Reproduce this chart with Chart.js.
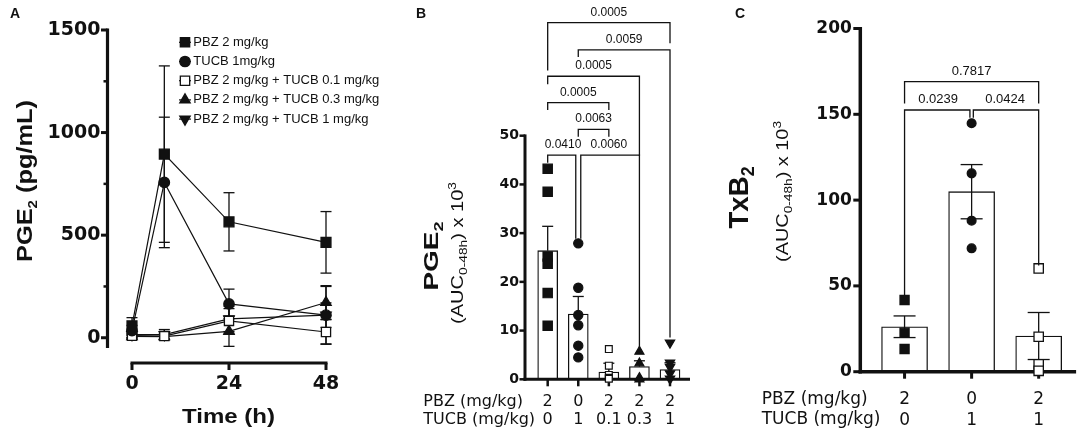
<!DOCTYPE html>
<html><head><meta charset="utf-8">
<script src="https://cdn.jsdelivr.net/npm/chart.js"></script>
<style>
html,body{margin:0;padding:0;background:#fff;}
#wrap{position:relative;width:1084px;height:434px;overflow:hidden;background:#fff;}
.pane{position:absolute;top:0;height:434px;}
</style></head><body>
<div id="wrap">
 <div class="pane" style="left:0;width:385px"><canvas id="cA"></canvas></div>
 <div class="pane" style="left:385px;width:315px"><canvas id="cB"></canvas></div>
 <div class="pane" style="left:700px;width:384px"><canvas id="cC"></canvas></div>
</div>
<script>
// ---------------- DATA ----------------
// Panel A: PGE2 time course (mean ± SEM)
const timesA = [0, 8, 24, 48];
const timeTicksA = [0, 24, 48];
const yTicksA = [0, 500, 1000, 1500];
const yMinorA = [250, 750, 1250];
const seriesNamesA = ['PBZ 2 mg/kg', 'TUCB 1mg/kg', 'PBZ 2 mg/kg + TUCB 0.1 mg/kg', 'PBZ 2 mg/kg + TUCB 0.3 mg/kg', 'PBZ 2 mg/kg + TUCB 1 mg/kg'];
const pbzMean   = [58, 895, 565, 465];
const pbzSem    = [40, 430, 142, 150];
const tucbMean  = [35, 757, 165, 110];
const tucbSem   = [25, 318, 72, 140];
const tucb01Mean = [10, 8, 82, 28];
const tucb01Sem  = [10, 15, 60, 60];
const tucb03Mean = [6, 5, 31, 172];
const tucb03Sem  = [8, 12, 73, 82];
const tucb1Mean  = [15, 15, 92, 110];
const tucb1Sem   = [15, 25, 62, 60];

// Panel B: PGE2 AUC(0-48h) x 10^3
const pbzDoseB  = ['2', '0', '2', '2', '2'];
const tucbDoseB = ['0', '1', '0.1', '0.3', '1'];
const yTicksB = [0, 10, 20, 30, 40, 50];
const pgeMeanB = [26.4, 13.4, 1.5, 2.6, 2.0];
const pgeSemB  = [5.0, 3.6, 1.8, 1.2, 1.4];
const pgePts0 = [43.2, 38.5, 25.2, 23.7, 17.7, 11.0];
const pgePts1 = [27.9, 18.8, 13.2, 11.1, 6.9, 4.5];
const pgePts2 = [6.2, 2.8, 0.9, 0.3, 0.1];
const pgePts3 = [5.7, 3.3, 0.3, 0.0];
const pgePts4 = [7.5, 3.4, 2.5, 1.2, 0.1];
// [from, to, p-value, bracket level, left leg end, right leg end] (data units)
const pBracketsB = [
  [0, 4, '0.0005', 73.2, 63.5, 69.1],
  [1, 4, '0.0059', 67.6, 66.3, 8.7],
  [0, 3, '0.0005', 62.2, 60.7, 46.0],
  [0, 2, '0.0005', 56.8, 55.4, 55.4],
  [1, 2, '0.0063', 51.3, 49.9, 49.9],
  [0, 1, '0.0410', 46.0, 44.6, 29.0],
  [1, 3, '0.0060', 46.0, 29.0, 6.7]
];

// Panel C: TxB2 AUC(0-48h) x 10^3
const pbzDoseC  = ['2', '0', '2'];
const tucbDoseC = ['0', '1', '1'];
const yTicksC = [0, 50, 100, 150, 200];
const txbMeanC = [26.2, 104.9, 20.8];
const txbSemC  = [6.3, 15.8, 13.7];
const txbPts0 = [41.8, 22.7, 13.2];
const txbPts1 = [144.8, 115.6, 88.0, 71.9];
const txbPts2 = [60.2, 20.4, 4.3, 0.5];
const pBracketsC = [
  [0, 2, '0.7817', 169.0, 156.7, 156.7],
  [0, 1, '0.0239', 152.5, 44.6, 148.4],
  [1, 2, '0.0424', 152.5, 148.4, 62.2]
];

// ---------------- STYLE / HELPERS ----------------
const INK = '#111';
const FS = "'Liberation Sans', Arial, Helvetica, sans-serif";
const FD = "'DejaVu Sans', Verdana, sans-serif";
Chart.defaults.color = INK;

function seg(ctx, x1, y1, x2, y2, w) {
  ctx.lineWidth = w; ctx.beginPath(); ctx.moveTo(x1, y1); ctx.lineTo(x2, y2); ctx.stroke();
}
function richText(ctx, parts, x, y, rot, len) {
  ctx.save();
  ctx.translate(x, y); ctx.rotate(rot);
  const ws = []; let tot = 0;
  parts.forEach(p => { ctx.font = `${p.w || 'normal'} ${p.s}px ${p.f || FS}`; const w = ctx.measureText(p.t).width; ws.push(w); tot += w; });
  const k = len ? len / tot : 1;
  ctx.scale(k, 1);
  ctx.textAlign = 'left'; ctx.textBaseline = 'alphabetic'; ctx.fillStyle = INK;
  let cx = -tot / 2;
  parts.forEach((p, i) => { ctx.font = `${p.w || 'normal'} ${p.s}px ${p.f || FS}`; ctx.fillText(p.t, cx, p.dy || 0); cx += ws[i]; });
  ctx.restore();
}
function marker(ctx, style, x, y, r, fill, rot) {
  ctx.save(); ctx.fillStyle = fill; ctx.strokeStyle = INK; ctx.lineWidth = 1.3;
  ctx.beginPath();
  if (style === 'rect') { const s = r * Math.SQRT1_2; ctx.rect(x - s, y - s, 2 * s, 2 * s); }
  else if (style === 'circle') { ctx.arc(x, y, r, 0, Math.PI * 2); }
  else { const d = rot ? -1 : 1; ctx.moveTo(x, y - d * r); ctx.lineTo(x + 0.866 * r, y + d * 0.5 * r); ctx.lineTo(x - 0.866 * r, y + d * 0.5 * r); ctx.closePath(); }
  ctx.fill(); ctx.stroke(); ctx.restore();
}
function drawBrackets(ctx, xs, ys, list, fontSize, gap) {
  ctx.save(); ctx.strokeStyle = INK; ctx.fillStyle = INK;
  ctx.font = `${fontSize}px ${FS}`; ctx.textAlign = 'center'; ctx.textBaseline = 'middle';
  list.forEach(b => {
    const [i, j, p, lev, le, re] = b;
    const li = list.some(o => o !== b && o[3] === lev && o[1] === i) ? gap : 0;
    const ri = list.some(o => o !== b && o[3] === lev && o[0] === j) ? -gap : 0;
    const x1 = xs.getPixelForValue(i) + li, x2 = xs.getPixelForValue(j) + ri;
    const yl = ys.getPixelForValue(lev);
    ctx.lineCap = 'square';
    ctx.beginPath(); ctx.lineWidth = 1.3;
    ctx.moveTo(x1, ys.getPixelForValue(le)); ctx.lineTo(x1, yl); ctx.lineTo(x2, yl); ctx.lineTo(x2, ys.getPixelForValue(re));
    ctx.stroke();
    ctx.fillText(p, (xs.getPixelForValue(i) + xs.getPixelForValue(j)) / 2, yl - 10.3);
  });
  ctx.restore();
}

// ---------------- PANEL A ----------------
const seriesA = [
  { name: seriesNamesA[0], mean: pbzMean, sem: pbzSem },
  { name: seriesNamesA[1], mean: tucbMean, sem: tucbSem },
  { name: seriesNamesA[2], mean: tucb01Mean, sem: tucb01Sem },
  { name: seriesNamesA[3], mean: tucb03Mean, sem: tucb03Sem },
  { name: seriesNamesA[4], mean: tucb1Mean, sem: tucb1Sem }
];
const stylesA = [
  { ps: 'rect', r: 7, fill: INK, rot: 0 },
  { ps: 'circle', r: 5.2, fill: INK, rot: 0 },
  { ps: 'rect', r: 6.5, fill: '#fff', rot: 0 },
  { ps: 'triangle', r: 6, fill: INK, rot: 0 },
  { ps: 'triangle', r: 6, fill: INK, rot: 180 }
];
const plugA = {
  id: 'plugA',
  beforeDatasetsDraw(chart) {
    const { ctx, scales: { x, y } } = chart;
    ctx.save(); ctx.strokeStyle = INK;
    seriesA.forEach(s => s.mean.forEach((m, i) => {
      const px = x.getPixelForValue(timesA[i]);
      const yt = y.getPixelForValue(m + s.sem[i]), yb = y.getPixelForValue(m - s.sem[i]);
      seg(ctx, px, yt, px, yb, 1.3);
      seg(ctx, px - 5.5, yt, px + 5.5, yt, 1.3);
      seg(ctx, px - 5.5, yb, px + 5.5, yb, 1.3);
    }));
    ctx.restore();
  },
  afterDraw(chart) {
    const { ctx, chartArea: ca, scales: { x, y } } = chart;
    ctx.save(); ctx.strokeStyle = INK; ctx.lineCap = 'butt';
    const L = ca.left, B = ca.bottom;
    seg(ctx, L, y.getPixelForValue(1500) - 1.5, L, B, 3.2);
    yTicksA.forEach(v => { const p = y.getPixelForValue(v); seg(ctx, L - 6.5, p, L, p, 3); });
    yMinorA.forEach(v => { const p = y.getPixelForValue(v); seg(ctx, L - 4, p, L, p, 2.5); });
    const xy = B + 15;
    seg(ctx, x.getPixelForValue(0) - 1.5, xy, x.getPixelForValue(48) + 1.5, xy, 3.2);
    timeTicksA.forEach(t => { const p = x.getPixelForValue(t); seg(ctx, p, xy, p, xy + 7, 3); });
    // legend
    ctx.font = `13px ${FS}`; ctx.textAlign = 'left'; ctx.textBaseline = 'middle'; ctx.fillStyle = INK;
    seriesA.forEach((s, k) => {
      const ly = 42.3 + k * 19.2, lx = 185;
      ctx.strokeStyle = INK; seg(ctx, lx - 6, ly, lx + 6, ly, 1.2);
      marker(ctx, stylesA[k].ps, lx, ly, stylesA[k].ps === 'rect' ? 6.6 : stylesA[k].r, stylesA[k].fill, stylesA[k].rot);
      ctx.fillStyle = INK; ctx.fillText(s.name, 193.3, ly);
    });
    // titles
    ctx.font = `bold 14px ${FS}`; ctx.textBaseline = 'alphabetic'; ctx.fillText('A', 10, 18.3);
    richText(ctx, [{ t: 'PGE', s: 22, w: 'bold' }, { t: '2', s: 13, w: 'bold', dy: 5.5 }, { t: ' (pg/mL)', s: 22, w: 'bold' }], 31.7, 181, -Math.PI / 2, 162);
    richText(ctx, [{ t: 'Time (h)', s: 20, w: 'bold' }], 228.5, 423, 0, 93);
    ctx.restore();
  }
};
new Chart(document.getElementById('cA'), {
  type: 'line',
  data: {
    datasets: seriesA.map((s, k) => ({
      label: s.name,
      data: timesA.map((t, i) => ({ x: t, y: s.mean[i] })),
      borderColor: INK, borderWidth: 1.2, tension: 0, clip: false,
      pointStyle: stylesA[k].ps, pointRadius: stylesA[k].r, pointRotation: stylesA[k].rot,
      pointBackgroundColor: stylesA[k].fill, pointBorderColor: INK, pointBorderWidth: 1.3
    }))
  },
  options: {
    responsive: true, maintainAspectRatio: false, animation: false, events: [],
    layout: { padding: { top: 30, right: 55, left: 0, bottom: 0 } },
    plugins: { legend: { display: false }, tooltip: { enabled: false } },
    scales: {
      x: {
        type: 'linear', min: -6.06, max: 48.99, offset: false,
        grid: { display: false, drawTicks: false }, border: { display: false },
        afterBuildTicks: s => { s.ticks = timeTicksA.map(v => ({ value: v })); },
        afterFit: s => { s.height = 86; },
        ticks: { padding: 24.3, color: INK, autoSkip: false, maxRotation: 0, font: { family: FD, size: 19, weight: 'bold' }, callback: v => String(v) }
      },
      y: {
        type: 'linear', min: -50, max: 1500,
        grid: { display: false, drawTicks: false }, border: { display: false },
        afterBuildTicks: s => { s.ticks = yTicksA.map(v => ({ value: v })); },
        afterFit: s => { s.width = 107.5; },
        ticks: { padding: 7, color: INK, font: { family: FD, size: 19, weight: 'bold' }, callback: v => String(v) }
      }
    }
  },
  plugins: [plugA]
});

// ---------------- PANEL B ----------------
const ptsB = [pgePts0, pgePts1, pgePts2, pgePts3, pgePts4];
const stylesB = [
  { ps: 'rect', r: 6.6, fill: INK, rot: 0 },
  { ps: 'circle', r: 4.6, fill: INK, rot: 0 },
  { ps: 'rect', r: 4.8, fill: '#fff', rot: 0 },
  { ps: 'triangle', r: 5.2, fill: INK, rot: 0 },
  { ps: 'triangle', r: 5.4, fill: INK, rot: 180 }
];
const plugB = {
  id: 'plugB',
  afterDatasetDraw(chart, args) {
    if (args.meta.type !== 'bar') return;
    const { ctx, chartArea: ca, scales: { x, y } } = chart;
    ctx.save(); ctx.strokeStyle = INK; ctx.lineCap = 'butt';
    pgeMeanB.forEach((m, i) => {
      const px = x.getPixelForValue(i), yt = y.getPixelForValue(m + pgeSemB[i]), yb = y.getPixelForValue(m);
      seg(ctx, px, yt, px, yb, 1.3); seg(ctx, px - 5.5, yt, px + 5.5, yt, 1.3);
    });
    seg(ctx, ca.left, y.getPixelForValue(50) - 1.3, ca.left, ca.bottom + 1.5, 3);
    yTicksB.forEach(v => { const p = y.getPixelForValue(v); seg(ctx, ca.left - 5.5, p, ca.left, p, 2.5); });
    seg(ctx, ca.left - 1.5, ca.bottom, ca.right, ca.bottom, 3);
    pgeMeanB.forEach((m, i) => { const p = x.getPixelForValue(i); seg(ctx, p, ca.bottom, p, ca.bottom + 7, 2.5); });
    ctx.restore();
  },
  afterDraw(chart) {
    const { ctx, scales: { x, y } } = chart;
    drawBrackets(ctx, x, y, pBracketsB, 12, 2.5);
    ctx.save(); ctx.fillStyle = INK;
    ctx.font = `bold 14px ${FS}`; ctx.textAlign = 'left'; ctx.textBaseline = 'alphabetic'; ctx.fillText('B', 31, 18.3);
    ctx.font = `16px ${FD}`; ctx.textBaseline = 'middle';
    ctx.fillText('PBZ (mg/kg)', 38.3, 401.7);
    ctx.fillText('TUCB (mg/kg)', 38.3, 420.1);
    richText(ctx, [{ t: 'PGE', s: 20, w: 'bold' }, { t: '2', s: 13, w: 'bold', dy: 5 }], 53.3, 256, -Math.PI / 2, 69);
    richText(ctx, [{ t: '(AUC', s: 16 }, { t: '0-48h', s: 11, dy: 4 }, { t: ') x 10', s: 16 }, { t: '3', s: 11, dy: -7 }], 78, 253, -Math.PI / 2, 142);
    ctx.restore();
  }
};
new Chart(document.getElementById('cB'), {
  type: 'bar',
  data: {
    datasets: [
      { type: 'bar', label: 'PGE2 AUC', data: pgeMeanB.map((m, i) => ({ x: i, y: m })), backgroundColor: '#fff', borderColor: INK, borderWidth: 1.3, barThickness: 20, order: 1 },
      ...ptsB.map((pts, i) => ({
        type: 'scatter', label: 'group ' + i, data: pts.map(v => ({ x: i, y: v })), order: 0, clip: false,
        pointStyle: stylesB[i].ps, pointRadius: stylesB[i].r, pointRotation: stylesB[i].rot,
        pointBackgroundColor: stylesB[i].fill, pointBorderColor: INK, pointBorderWidth: 1.2
      }))
    ]
  },
  options: {
    responsive: true, maintainAspectRatio: false, animation: false, events: [],
    layout: { padding: { top: 135.7, right: 10, left: 0, bottom: 0 } },
    plugins: { legend: { display: false }, tooltip: { enabled: false } },
    scales: {
      x: {
        type: 'linear', min: -0.742, max: 4.654, offset: false,
        grid: { display: false, drawTicks: false }, border: { display: false },
        afterBuildTicks: s => { s.ticks = pbzDoseB.map((d, i) => ({ value: i })); },
        afterFit: s => { s.height = 54.7; },
        ticks: { padding: 13.3, color: INK, autoSkip: false, maxRotation: 0, font: { family: FD, size: 16, lineHeight: 1.15 },
          callback: v => [pbzDoseB[v], tucbDoseB[v]] }
      },
      y: {
        type: 'linear', min: 0, max: 50,
        grid: { display: false, drawTicks: false }, border: { display: false },
        afterBuildTicks: s => { s.ticks = yTicksB.map(v => ({ value: v })); },
        afterFit: s => { s.width = 140; },
        ticks: { padding: 6, color: INK, font: { family: FD, size: 14, weight: 'bold' }, callback: v => String(v) }
      }
    }
  },
  plugins: [plugB]
});

// ---------------- PANEL C ----------------
const ptsC = [txbPts0, txbPts1, txbPts2];
const stylesC = [
  { ps: 'rect', r: 6.4, fill: INK },
  { ps: 'circle', r: 4.4, fill: INK },
  { ps: 'rect', r: 6.6, fill: '#fff' }
];
const plugC = {
  id: 'plugC',
  afterDatasetDraw(chart, args) {
    if (args.meta.type !== 'bar') return;
    const { ctx, chartArea: ca, scales: { x, y } } = chart;
    ctx.save(); ctx.strokeStyle = INK; ctx.lineCap = 'butt';
    txbMeanC.forEach((m, i) => {
      const px = x.getPixelForValue(i), yt = y.getPixelForValue(m + txbSemC[i]), yb = y.getPixelForValue(m - txbSemC[i]);
      seg(ctx, px, yt, px, yb, 1.3); seg(ctx, px - 11, yt, px + 11, yt, 1.3); seg(ctx, px - 11, yb, px + 11, yb, 1.3);
    });
    seg(ctx, ca.left, y.getPixelForValue(200) - 1.5, ca.left, ca.bottom + 1.8, 3.5);
    yTicksC.forEach(v => { const p = y.getPixelForValue(v); seg(ctx, ca.left - 7, p, ca.left, p, 3); });
    seg(ctx, ca.left - 1.8, ca.bottom, ca.right, ca.bottom, 3.5);
    txbMeanC.forEach((m, i) => { const p = x.getPixelForValue(i); seg(ctx, p, ca.bottom, p, ca.bottom + 7, 3); });
    ctx.restore();
  },
  afterDraw(chart) {
    const { ctx, scales: { x, y } } = chart;
    drawBrackets(ctx, x, y, pBracketsC, 13, 1.7);
    ctx.save(); ctx.fillStyle = INK;
    ctx.font = `bold 14px ${FS}`; ctx.textAlign = 'left'; ctx.textBaseline = 'alphabetic'; ctx.fillText('C', 35, 18.3);
    ctx.font = `17px ${FD}`; ctx.textBaseline = 'middle';
    ctx.fillText('PBZ (mg/kg)', 61.7, 400);
    ctx.fillText('TUCB (mg/kg)', 61.7, 420);
    richText(ctx, [{ t: 'TxB', s: 28, w: 'bold' }, { t: '2', s: 18, w: 'bold', dy: 6 }], 48.3, 197.5, -Math.PI / 2, 62);
    richText(ctx, [{ t: '(AUC', s: 16 }, { t: '0-48h', s: 11, dy: 4 }, { t: ') x 10', s: 16 }, { t: '3', s: 11, dy: -7 }], 88, 191.5, -Math.PI / 2, 141);
    ctx.restore();
  }
};
new Chart(document.getElementById('cC'), {
  type: 'bar',
  data: {
    datasets: [
      { type: 'bar', label: 'TxB2 AUC', data: txbMeanC.map((m, i) => ({ x: i, y: m })), backgroundColor: '#fff', borderColor: INK, borderWidth: 1.3, barThickness: 46, order: 1 },
      ...ptsC.map((pts, i) => ({
        type: 'scatter', label: 'group ' + i, data: pts.map(v => ({ x: i, y: v })), order: 0, clip: false,
        pointStyle: stylesC[i].ps, pointRadius: stylesC[i].r,
        pointBackgroundColor: stylesC[i].fill, pointBorderColor: INK, pointBorderWidth: 1.3
      }))
    ]
  },
  options: {
    responsive: true, maintainAspectRatio: false, animation: false, events: [],
    layout: { padding: { top: 28.5, right: 2.3, left: 0, bottom: 0 } },
    plugins: { legend: { display: false }, tooltip: { enabled: false } },
    scales: {
      x: {
        type: 'linear', min: -0.66, max: 2.558, offset: false,
        grid: { display: false, drawTicks: false }, border: { display: false },
        afterBuildTicks: s => { s.ticks = pbzDoseC.map((d, i) => ({ value: i })); },
        afterFit: s => { s.height = 62.3; },
        ticks: { padding: 18.3, color: INK, autoSkip: false, maxRotation: 0, font: { family: FD, size: 17, lineHeight: 1.18 },
          callback: v => [pbzDoseC[v], tucbDoseC[v]] }
      },
      y: {
        type: 'linear', min: 0, max: 200,
        grid: { display: false, drawTicks: false }, border: { display: false },
        afterBuildTicks: s => { s.ticks = yTicksC.map(v => ({ value: v })); },
        afterFit: s => { s.width = 160.3; },
        ticks: { padding: 8.5, color: INK, font: { family: FD, size: 17, weight: 'bold' }, callback: v => String(v) }
      }
    }
  },
  plugins: [plugC]
});
</script>
</body></html>
